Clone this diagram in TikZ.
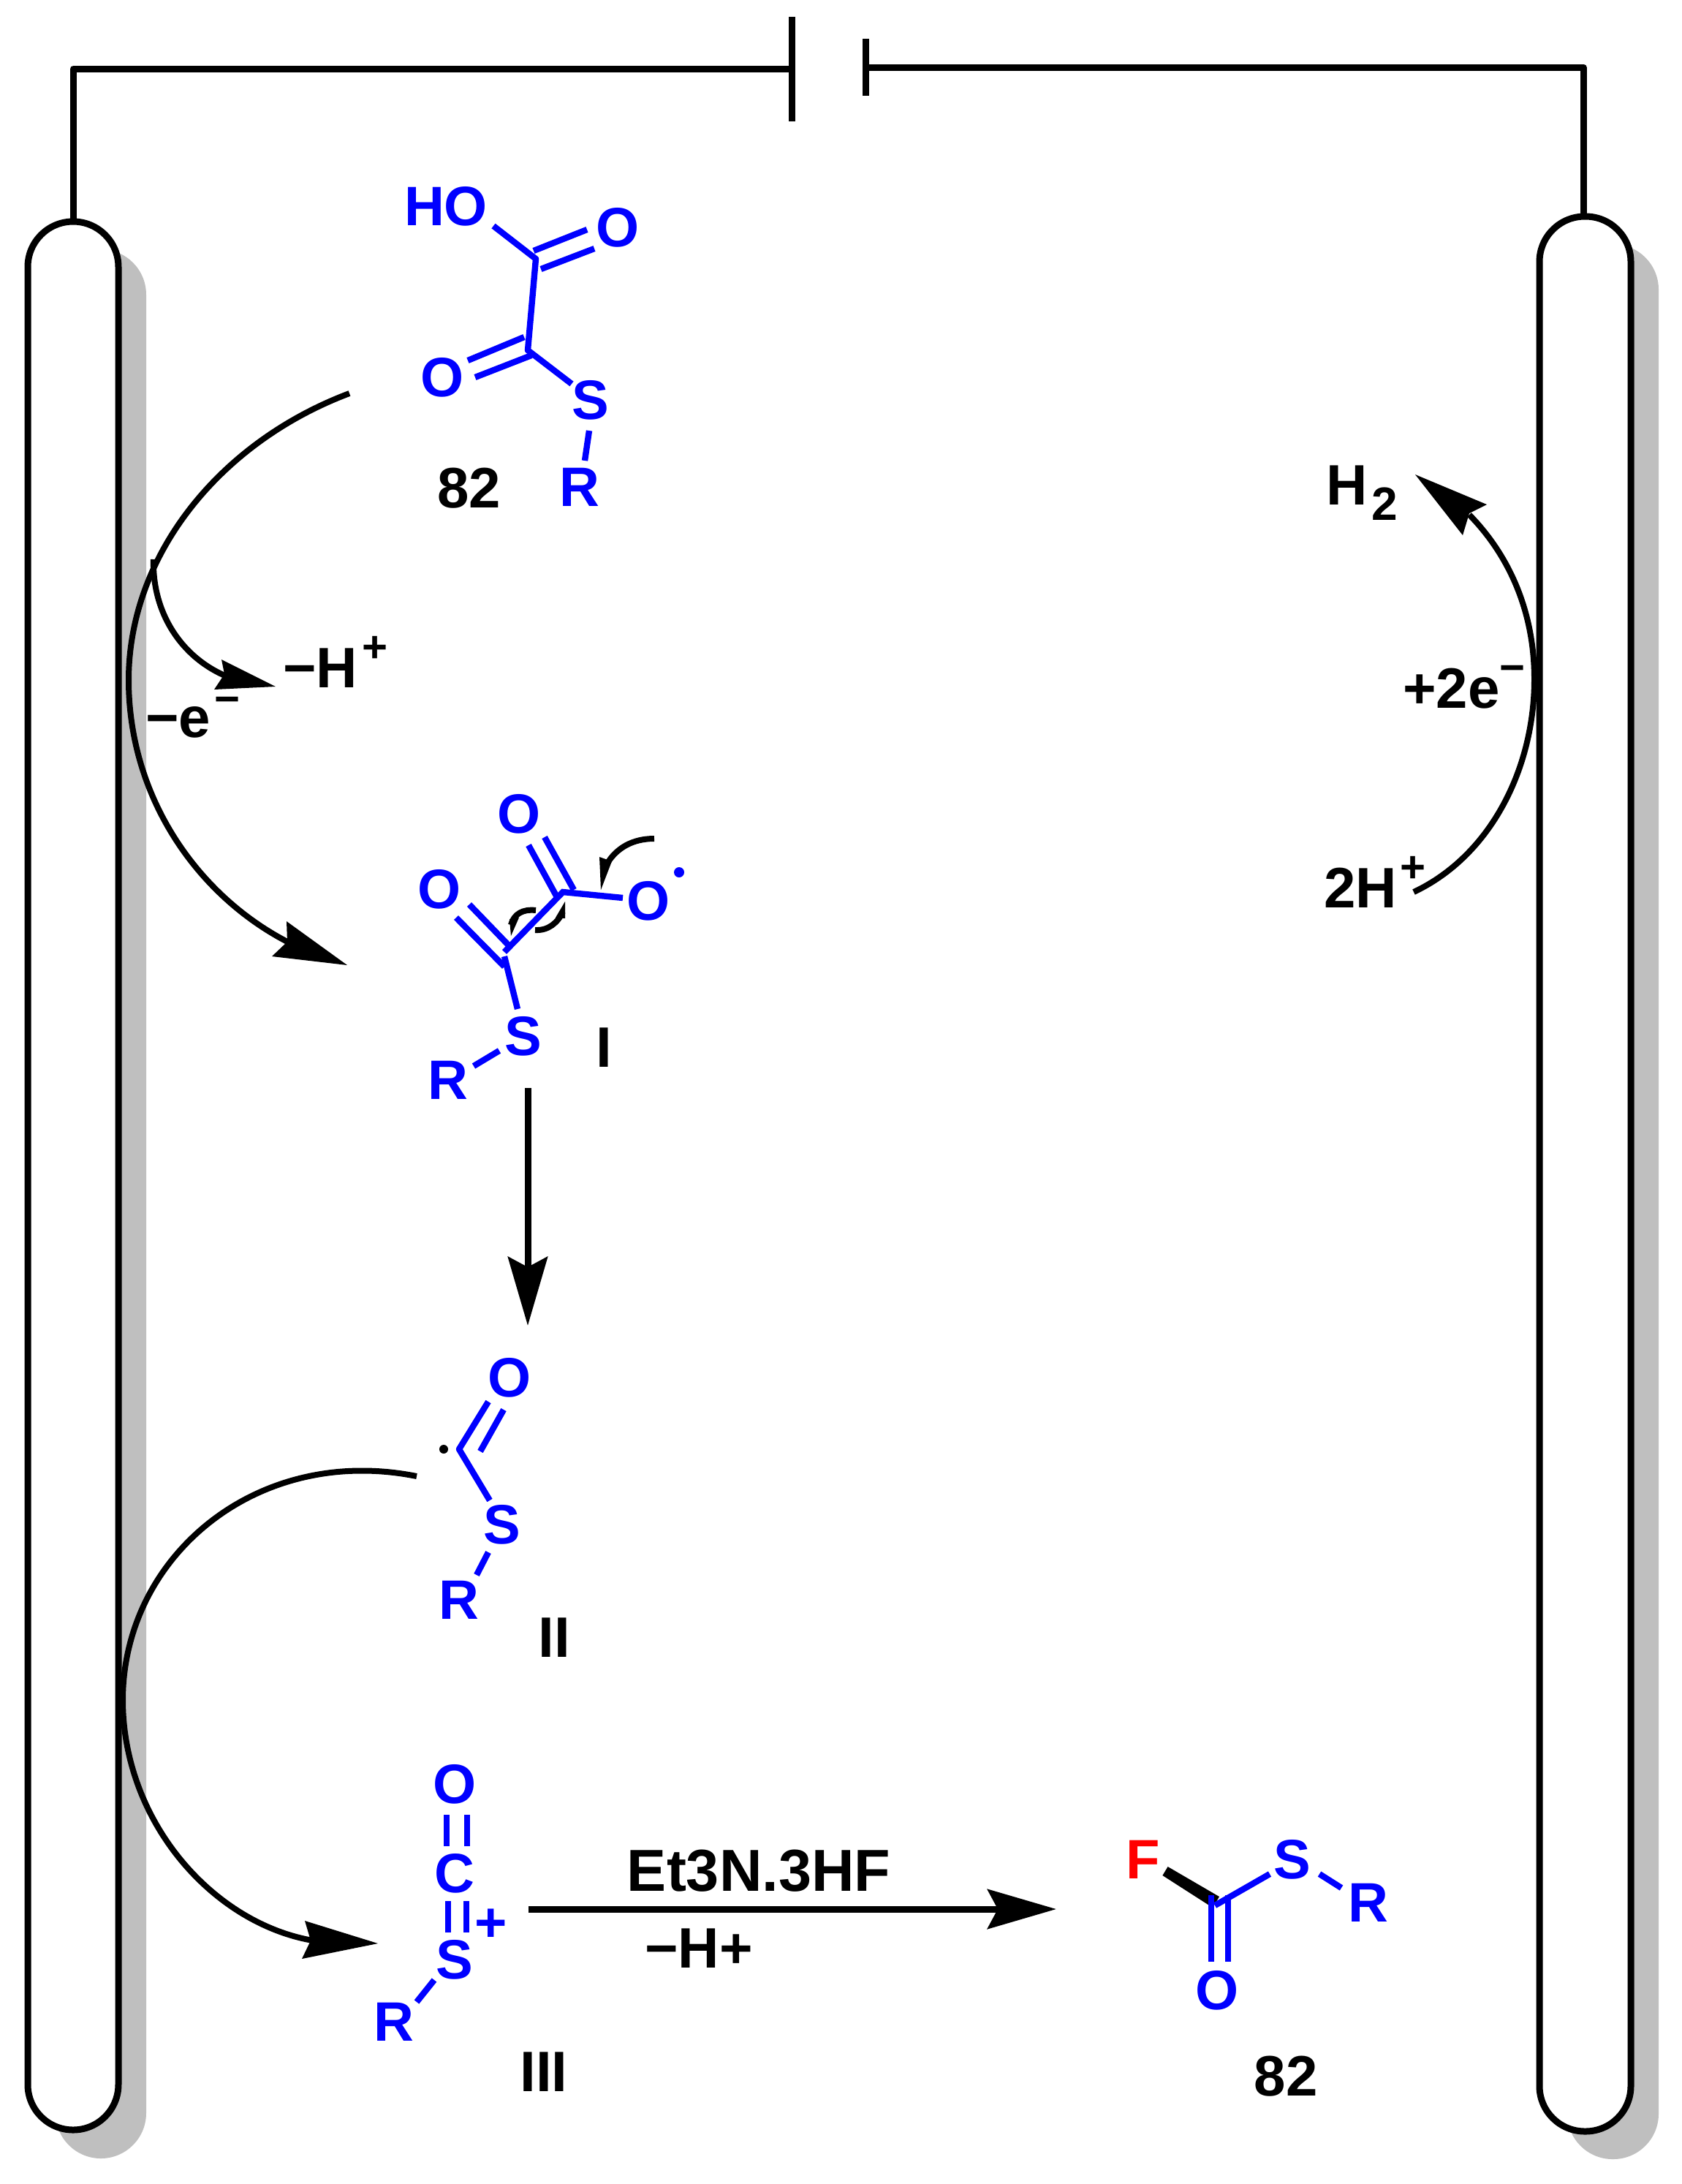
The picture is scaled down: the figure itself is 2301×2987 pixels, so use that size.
\documentclass[tikz,border=0pt]{standalone}
\usepackage{fontspec}
\setmainfont{Liberation Sans}
\usetikzlibrary{arrows.meta}
\newcommand{\raisedmark}[2][17.5pt]{\raisebox{#1}{\fontsize{30}{30}\selectfont #2}}
\tikzset{
  atomlabel/.style={inner sep=0pt,text=blue,font=\fontsize{38}{38}\selectfont\bfseries},
  redlabel/.style={atomlabel,text=red},
  blacklabel/.style={inner sep=0pt,text=black,font=\fontsize{39}{39}\selectfont\bfseries},
  bondline/.style={draw=blue,line width=4.2pt},
  wireline/.style={draw=black,line width=4.5pt},
  electrode/.style={draw=black,fill=white,line width=4.5pt,rounded corners=31pt},
  eshadow/.style={fill=black!25,rounded corners=31pt},
  curvearrow/.style={draw=black,line width=4pt},
  headfill/.style={fill=black},
  mainarrow/.style={draw=black,line width=4.5pt,-{Stealth[length=47pt,width=27pt,inset=7pt]}}
}
\begin{document}
\begin{tikzpicture}[x=0.5pt,y=-0.5pt]
\useasboundingbox (0,0) rectangle (2301,2987);
% electrode shadows
\fill[eshadow] (76,341) rectangle (200,2952);
\fill[eshadow] (2144,334) rectangle (2269,2953);
% wires and battery
\coordinate (wl) at (100,303);
\coordinate (wr) at (2166,296);
\coordinate (pl) at (1083,94);
\coordinate (pr) at (1184,92);
\draw[wireline,line join=round] (wl) |- (pl);
\draw[wireline,line join=round] (wr) |- (pr);
\draw[wireline] (1083,23) -- (1083,166);
\draw[wireline] (1184,53) -- (1184,131);
% electrodes
\draw[electrode] (38,303) rectangle (162,2913);
\draw[electrode] (2106,296) rectangle (2231,2915);

% curved arrows, left electrode
\draw[curvearrow] (478,538) .. controls (300,605) and (176,760) .. (176,930) .. controls (176,1090) and (270,1225) .. (395,1289);
\fill[headfill] (475,1320) -- (392,1260) -- (393,1288) -- (372,1308) -- cycle;
\draw[curvearrow] (210,765) .. controls (208,840) and (250,900) .. (310,925);
\fill[headfill] (377,939) -- (303,902) -- (307,922) -- (293,943) -- cycle;
\draw[curvearrow] (570,2019) .. controls (350,1975) and (168,2130) .. (168,2325) .. controls (168,2490) and (290,2630) .. (428,2654);
\fill[headfill] (517,2658) -- (417,2627) -- (425,2654) -- (413,2679) -- cycle;
% curved arrow, right electrode
\draw[curvearrow] (1934,1220) .. controls (2040,1170) and (2099,1050) .. (2099,929) .. controls (2099,830) and (2060,755) .. (2010,704);
\fill[headfill] (1936,649) -- (2034,690) -- (2010,702) -- (2001,732) -- cycle;

% labels at the electrodes
\node[blacklabel,anchor=base west] (hlab) at (387,940) {−H\kern3pt\raisedmark{+}};
\node[blacklabel,anchor=base west] (elab) at (199,1008) {−e\kern2.5pt\raisedmark[16pt]{−}};
\node[blacklabel,anchor=base west] (twoe) at (1919,968) {+2e\raisedmark[17.5pt]{−}};
\node[blacklabel,anchor=base west] (twoh) at (1811,1241) {2H\kern2pt\raisedmark{+}};
\node[blacklabel,anchor=base west] (hh) at (1814,690) {H\kern3pt\raisebox{-10.5pt}{\fontsize{32}{32}\selectfont 2}};

% electron-pushing half arrows (under the bonds)
\draw[curvearrow] (895,1147) .. controls (865,1147) and (843,1160) .. (830,1182);
\fill[headfill] (822,1217) -- (820,1172) -- (837,1178) -- cycle;
\draw[curvearrow] (733,1245) .. controls (715,1243) and (703,1250) .. (699,1265);
\fill[headfill] (699,1280) -- (697,1257) -- (710,1255) -- cycle;
\draw[curvearrow] (732,1272) .. controls (750,1273) and (763,1262) .. (770,1247);
\fill[headfill] (773,1233) -- (773,1256) -- (760,1255) -- cycle;

% structure 82 (acid)
\node[atomlabel] (ho) at (610,282) {HO};
\node[atomlabel] (oa) at (845,311) {O};
\node[atomlabel] (ob) at (605,516) {O};
\node[atomlabel] (sa) at (808,547) {S};
\node[atomlabel] (ra) at (793,666) {R};
\node[blacklabel] (nA) at (642,668) {82};
\draw[bondline,line join=round] (675,309) -- (733,354) -- (722,479) -- (782,525);
\draw[bondline] (730,343) -- (803,314);
\draw[bondline] (740,368) -- (813,340);
\draw[bondline] (717,461) -- (640,493);
\draw[bondline] (727,486) -- (650,516);
\draw[bondline] (806,589) -- (800,630);

% structure I
\node[atomlabel] (oc) at (710,1113) {O};
\node[atomlabel] (od) at (887,1232) {O};
\node[atomlabel] (oe) at (601,1216) {O};
\node[atomlabel] (sb) at (716,1417) {S};
\node[atomlabel] (rb) at (613,1477) {R};
\node[blacklabel] (nI) at (826,1433) {I};
\fill[blue] (929,1193) circle (3.5pt);
\draw[bondline] (852,1228) -- (770,1220) -- (690,1302);
\draw[bondline] (745,1145) -- (785,1217);
\draw[bondline] (723,1156) -- (762,1227);
\draw[bondline] (642,1237) -- (695,1292);
\draw[bondline] (624,1255) -- (690,1322);
\draw[bondline] (690,1308) -- (708,1380);
\draw[bondline] (683,1437) -- (648,1458);

% arrow I to II
\coordinate (aStart) at (722,1488);
\coordinate (aEnd) at (722,1813);
\draw[mainarrow] (aStart) -- (aEnd);

% structure II
\node[atomlabel] (of) at (697,1884) {O};
\node[atomlabel] (sc) at (687,2085) {S};
\node[atomlabel] (rc) at (628,2188) {R};
\node[blacklabel] (nII) at (758,2240) {II};
\fill[black] (607,1982) circle (3pt);
\draw[bondline,line join=round] (668,1917) -- (628,1982) -- (670,2052);
\draw[bondline] (689,1928) -- (657,1985);
\draw[bondline] (668,2123) -- (652,2154);

% structure III
\node[atomlabel] (og) at (622,2440) {O};
\node[atomlabel] (cg) at (622,2562) {C};
\node[atomlabel] (sg) at (622,2680) {S};
\node[atomlabel] (pg) at (672,2633) {+};
\node[atomlabel] (rg) at (539,2765) {R};
\node[blacklabel] (nIII) at (744,2834) {III};
\draw[bondline] (611,2482) -- (611,2525);
\draw[bondline] (639,2482) -- (639,2525);
\draw[bondline] (613,2600) -- (613,2643);
\draw[bondline] (638,2600) -- (638,2643);
\draw[bondline] (594,2708) -- (570,2738);

% reaction arrow
\coordinate (bStart) at (723,2611);
\coordinate (bEnd) at (1445,2611);
\draw[mainarrow] (bStart) -- (bEnd);
\node[blacklabel,font=\fontsize{40.5}{40.5}\selectfont\bfseries] (reag) at (1038,2559) {Et3N.3HF};
\node[blacklabel] (minush) at (956,2665) {−H+};

% product 82
\node[redlabel] (fl) at (1564,2543) {F};
\node[atomlabel] (sh) at (1768,2543) {S};
\node[atomlabel] (rh) at (1872,2602) {R};
\node[atomlabel] (oh) at (1665,2722) {O};
\node[blacklabel] (nB) at (1759,2840) {82};
\fill[black] (1590.4,2565) -- (1597.6,2553) -- (1668,2594) -- (1659,2609) -- cycle;
\draw[bondline] (1657,2592) -- (1657,2683);
\draw[bondline] (1680,2592) -- (1680,2683);
\draw[bondline] (1662,2606) -- (1737,2563);
\draw[bondline] (1805,2563) -- (1835,2582);
\end{tikzpicture}
\end{document}
